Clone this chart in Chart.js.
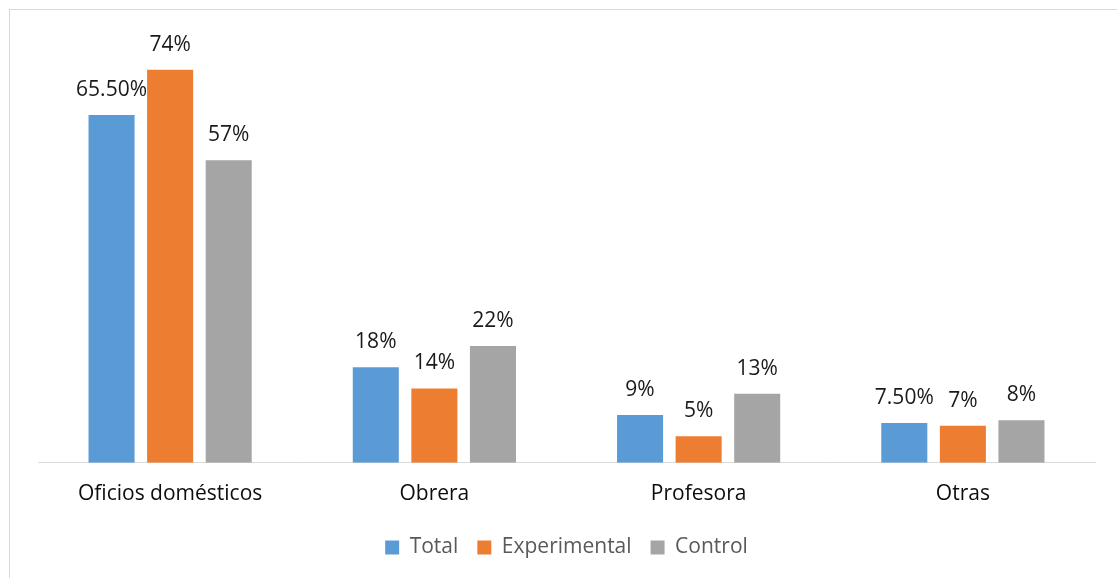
<!DOCTYPE html>
<html>
<head>
<meta charset="utf-8">
<script src="https://cdn.jsdelivr.net/npm/chart.js@4/dist/chart.umd.min.js"></script>
<style>
  html, body { margin: 0; padding: 0; background: #ffffff; }
  #wrap { width: 1117px; height: 578px; position: relative; }
</style>
</head>
<body>
<div id="wrap"><canvas id="chart" width="1117" height="578"></canvas></div>
<script>
// Occupation categories and percentage per group
const categories = ["Oficios domésticos", "Obrera", "Profesora", "Otras"];
const totalValues = [65.5, 18, 9, 7.5];
const experimentalValues = [74, 14, 5, 7];
const controlValues = [57, 22, 13, 8];
const totalLabels = ["65.50%", "18%", "9%", "7.50%"];
const experimentalLabels = ["74%", "14%", "5%", "7%"];
const controlLabels = ["57%", "22%", "13%", "8%"];
const seriesNames = ["Total", "Experimental", "Control"];

const FONT = "'Open Sans', 'Noto Sans', sans-serif";
const FONT_SIZE = 21;

// Thin frame around the chart
const framePlugin = {
  id: 'frame',
  beforeDraw(chart) {
    const ctx = chart.ctx;
    ctx.save();
    ctx.strokeStyle = '#d9d9d9';
    ctx.lineWidth = 1;
    ctx.strokeRect(9.5, 9.5, chart.width + 20, chart.height + 20);
    ctx.restore();
  }
};

// Value labels above each bar
const valueLabelPlugin = {
  id: 'valueLabels',
  afterDatasetsDraw(chart) {
    const ctx = chart.ctx;
    ctx.save();
    ctx.font = FONT_SIZE + "px " + FONT;
    ctx.fillStyle = '#1a1a1a';
    ctx.textAlign = 'center';
    ctx.textBaseline = 'middle';
    chart.data.datasets.forEach((ds, di) => {
      const meta = chart.getDatasetMeta(di);
      meta.data.forEach((bar, i) => {
        ctx.fillText(ds.valueLabels[i], bar.x, bar.y - 25);
      });
    });
    ctx.restore();
  }
};

new Chart(document.getElementById('chart'), {
  type: 'bar',
  data: {
    labels: categories,
    datasets: [
      { label: seriesNames[0], data: totalValues, valueLabels: totalLabels, backgroundColor: '#5b9bd5' },
      { label: seriesNames[1], data: experimentalValues, valueLabels: experimentalLabels, backgroundColor: '#ed7d31' },
      { label: seriesNames[2], data: controlValues, valueLabels: controlLabels, backgroundColor: '#a5a5a5' }
    ]
  },
  options: {
    responsive: false,
    animation: false,
    devicePixelRatio: 1,
    categoryPercentage: 0.665,
    barPercentage: 0.786,
    layout: { padding: { left: 38, right: 22, top: 38, bottom: 10 } },
    scales: {
      x: {
        grid: { display: false },
        border: { display: true, color: '#d9d9d9', width: 1 },
        ticks: { color: '#0d0d0d', font: { family: FONT, size: FONT_SIZE }, padding: 11 }
      },
      y: {
        display: false,
        min: 0,
        max: 80
      }
    },
    plugins: {
      legend: {
        position: 'bottom',
        labels: {
          boxWidth: 14,
          boxHeight: 14,
          padding: 19,
          color: '#595959',
          font: { family: FONT, size: FONT_SIZE }
        }
      },
      tooltip: { enabled: false }
    }
  },
  plugins: [framePlugin, valueLabelPlugin]
});
</script>
</body>
</html>
